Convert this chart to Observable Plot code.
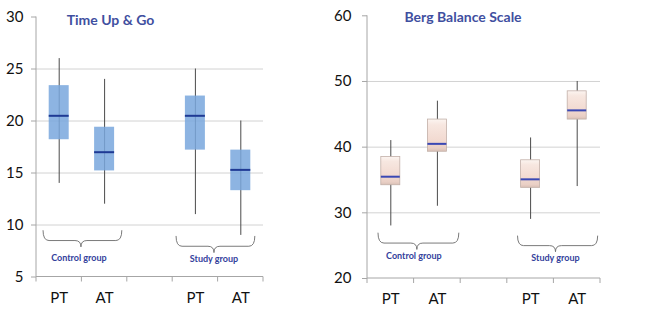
<!DOCTYPE html>
<html>
<head>
<meta charset="utf-8">
<script src="https://cdn.jsdelivr.net/npm/d3@7"></script>
<script src="https://cdn.jsdelivr.net/npm/@observablehq/plot@0.6"></script>
<style>
  html, body { margin: 0; padding: 0; background: #fff; }
  #wrap { display: flex; width: 650px; height: 317px; }
  #wrap > div { width: 325px; height: 317px; }
  svg { display: block; font-family: Lato, "Open Sans", sans-serif; }
</style>
</head>
<body>
<div id="wrap"><div id="left"></div><div id="right"></div></div>
<script>
// ---- data ----
const categories = ["C-PT", "C-AT", "gap", "S-PT", "S-AT"];
const tickLabels = ["PT", "AT", "", "PT", "AT"];
const boxCategories = ["C-PT", "C-AT", "S-PT", "S-AT"];
const groups = ["Control group", "Study group"];

const tugLow    = [14, 12, 11, 9];
const tugQ1     = [18.2, 15.2, 17.2, 13.3];
const tugMedian = [20.5, 17.0, 20.5, 15.3];
const tugQ3     = [23.4, 19.4, 22.4, 17.2];
const tugHigh   = [26, 24, 25, 20];
const tugTicks  = [5, 10, 15, 20, 25, 30];

const bbsLow    = [28, 31, 29, 34];
const bbsQ1     = [34.2, 39.3, 33.8, 44.2];
const bbsMedian = [35.5, 40.5, 35.1, 45.6];
const bbsQ3     = [38.5, 44.2, 38.0, 48.5];
const bbsHigh   = [41, 47, 41.4, 50];
const bbsTicks  = [20, 30, 40, 50, 60];

// ---- drawing ----
function panel(cfg) {
  const rows = boxCategories.map((c, i) => ({
    cat: c, low: cfg.low[i], q1: cfg.q1[i], med: cfg.med[i], q3: cfg.q3[i], high: cfg.high[i]
  }));
  const tickLabelOf = new Map(categories.map((c, i) => [c, tickLabels[i]]));
  const ticks = cfg.ticks;

  const chrome = (index, scales, values, dims) => {
    const x = scales.x, y = scales.y;
    const bw = (x.bandwidth ? x.bandwidth() : (x(categories[1]) - x(categories[0])));
    const left = dims.marginLeft, right = dims.width - dims.marginRight;
    const top = dims.marginTop, bottom = dims.height - dims.marginBottom;
    const g = d3.create("svg:g");
    g.append("line").attr("x1", left).attr("x2", left).attr("y1", top).attr("y2", bottom)
      .attr("stroke", "#a6a6a6");
    g.append("line").attr("x1", left).attr("x2", right).attr("y1", bottom).attr("y2", bottom)
      .attr("stroke", "#a6a6a6");
    const bounds = categories.map(c => x(c)).concat([x(categories[categories.length - 1]) + bw]);
    for (const b of bounds) {
      g.append("line").attr("x1", b).attr("x2", b).attr("y1", bottom).attr("y2", bottom + 5)
        .attr("stroke", "#a6a6a6");
    }
    groups.forEach((name, gi) => {
      const br = cfg.braces[gi];
      const start = x(categories[gi === 0 ? 0 : 3]);
      const x0 = start + br.a * bw, x1 = start + br.b * bw, xm = start + br.m * bw;
      const yT = y(br.top), yB = y(br.bot), yM = yT + (yB - yT) * 0.62;
      const r = 6;
      const d = `M${x0},${yT} Q${x0},${yM} ${x0 + r},${yM} L${xm - r},${yM} Q${xm},${yM} ${xm},${yB} ` +
                `Q${xm},${yM} ${xm + r},${yM} L${x1 - r},${yM} Q${x1},${yM} ${x1},${yT}`;
      g.append("path").attr("d", d).attr("fill", "none").attr("stroke", "#6b6b6b").attr("stroke-width", 0.9);
      g.append("text").attr("x", xm + br.tdx).attr("y", y(br.label)).attr("text-anchor", "middle")
        .attr("dominant-baseline", "middle").attr("font-size", 9).attr("font-weight", "bold")
        .attr("fill", "#33419c").text(name);
    });
    return g.node();
  };

  const marks = [];
  if (cfg.defs) marks.push(cfg.defs);
  marks.push(
    Plot.gridY(cfg.grid, {stroke: "#d2d2d2", strokeOpacity: 1}),
    chrome,
    Plot.ruleX(rows, {x: "cat", y1: "low", y2: "high", stroke: "#4a4a4a", strokeWidth: 1}),
    Plot.barY(rows, {x: "cat", y1: "q1", y2: "q3", fill: cfg.boxFill, fillOpacity: cfg.boxOpacity,
      stroke: cfg.boxStroke, strokeWidth: 0.8, insetLeft: cfg.inset, insetRight: cfg.inset}),
    Plot.tickY(rows, {x: "cat", y: "med", stroke: cfg.medColor, strokeWidth: 2,
      insetLeft: cfg.inset, insetRight: cfg.inset}),
    Plot.axisY({ticks, tickSize: 5, tickPadding: cfg.yPad, fontSize: 15, stroke: "#a6a6a6",
      fill: "#111", label: null, tickFormat: d => String(d)}),
    Plot.axisX({tickSize: 0, tickPadding: 15, fontSize: 15, fill: "#111", label: null,
      tickFormat: c => tickLabelOf.get(c)}),
    Plot.text([cfg.title], {frameAnchor: "top", lineAnchor: "middle", dx: cfg.titleDx, dy: cfg.titleDy,
      fontSize: 14, fontWeight: "bold", fill: "#3f4fa0"})
  );

  return Plot.plot({
    width: 325,
    height: 317,
    marginLeft: cfg.ml, marginRight: cfg.mr, marginTop: cfg.mt, marginBottom: cfg.mb,
    style: {fontFamily: "Lato, 'Open Sans', sans-serif", color: "#111", background: "white", overflow: "visible"},
    x: {type: "band", domain: categories, padding: 0, axis: null, round: false, label: null},
    y: {domain: [ticks[0], ticks[ticks.length - 1]], axis: null, label: null},
    marks
  });
}

const gradDefs = () => {
  const defs = d3.create("svg:defs");
  const lg = defs.append("linearGradient").attr("id", "bbsGrad")
    .attr("x1", 0).attr("y1", 0).attr("x2", 0).attr("y2", 1);
  [[0, "#fcf5f1"], [0.18, "#f7e7e0"], [0.65, "#f2dad1"], [0.9, "#e9cfc5"], [1, "#d9c0b6"]]
    .forEach(([o, c]) => lg.append("stop").attr("offset", o).attr("stop-color", c));
  return defs.node();
};

document.getElementById("left").append(panel({
  title: "Time Up & Go",
  low: tugLow, q1: tugQ1, med: tugMedian, q3: tugQ3, high: tugHigh,
  ticks: tugTicks, grid: [10, 15, 20, 25],
  ml: 36, mr: 62, mt: 16.5, mb: 40.5,
  yPad: 8, inset: 12.7,
  boxFill: "#79a7dd", boxOpacity: 0.85, boxStroke: "none", medColor: "#1f3a94",
  titleDx: -39.5, titleDy: 4,
  braces: [
    {a: 0.155, b: 1.89, m: 0.99, top: 9.45, bot: 7.85, label: 6.75, tdx: -2},
    {a: 0.085, b: 1.82, m: 0.92, top: 8.9, bot: 7.3, label: 6.6, tdx: 0}
  ]
}));

document.getElementById("right").append(panel({
  title: "Berg Balance Scale",
  low: bbsLow, q1: bbsQ1, med: bbsMedian, q3: bbsQ3, high: bbsHigh,
  ticks: bbsTicks, grid: [30, 40, 50],
  ml: 42, mr: 50, mt: 15.3, mb: 39,
  yPad: 11, inset: 13.8,
  boxFill: "url(#bbsGrad)", boxOpacity: 1, boxStroke: "#c2b0a8", medColor: "#3a48b4",
  defs: gradDefs,
  titleDx: -21, titleDy: 2,
  braces: [
    {a: 0.236, b: 1.97, m: 1.07, top: 26.9, bot: 24.35, label: 23.3, tdx: -3},
    {a: 0.23, b: 1.95, m: 1.045, top: 26.45, bot: 24.0, label: 23.0, tdx: 0}
  ]
}));
</script>
</body>
</html>
